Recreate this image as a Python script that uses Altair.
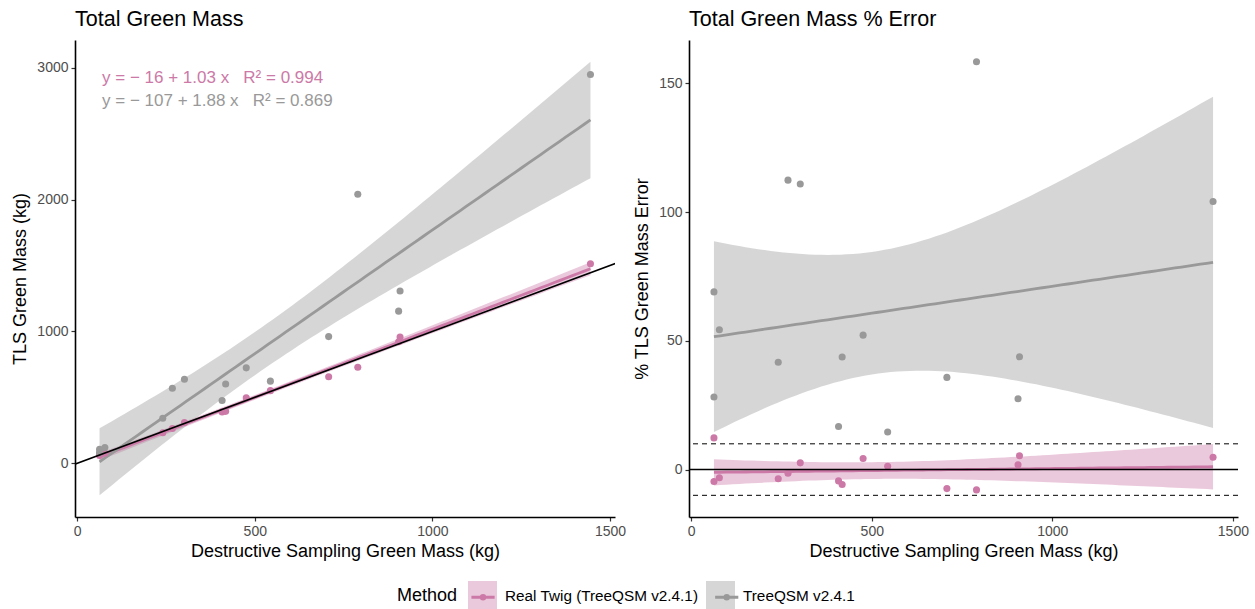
import altair as alt
import numpy as np
import pandas as pd

# ---------------- data ----------------
methods = ["Real Twig (TreeQSM v2.4.1)", "TreeQSM v2.4.1"]
colors = ["#CC79A7", "#999999"]

ds_mass = [63, 63, 78, 241, 268, 302, 408, 418, 476, 544, 708, 790, 905, 909, 1445]
tls_realtwig = [71, 60, 76, 232, 264, 310, 390, 394, 496, 551, 656, 728, 922, 958, 1514]
tls_treeqsm = [106, 81, 120, 342, 569, 637, 476, 601, 724, 623, 961, 2041, 1154, 1307, 2949]
err_realtwig = [12.3, -4.6, -3.2, -3.6, -1.4, 2.6, -4.4, -5.8, 4.3, 1.3, -7.4, -7.9, 1.9, 5.4, 4.8]
err_treeqsm = [69.0, 28.2, 54.3, 41.7, 112.4, 110.9, 16.7, 43.7, 52.2, 14.6, 35.8, 158.4, 27.5, 43.8, 104.1]

NB = "\u00a0"
eq_text = ["y = \u2212 16 + 1.03 x" + NB * 3 + "R\u00b2" + NB + "= 0.994",
           "y = \u2212 107 + 1.88 x" + NB * 3 + "R\u00b2" + NB + "= 0.869"]
eq_x = [70, 70]
eq_y = [2925, 2745]

err_ref = [0]
err_band_lines = [-10, 10]

FONT = "Liberation Sans"


def lm_band(x, y, n=80, t=2.1604):
    """Linear model fit with 95% confidence band (like geom_smooth(method='lm'))."""
    x = np.asarray(x, float)
    y = np.asarray(y, float)
    b1, b0 = np.polyfit(x, y, 1)
    resid = y - (b0 + b1 * x)
    s = np.sqrt(np.sum(resid ** 2) / (len(x) - 2))
    xm = x.mean()
    sxx = np.sum((x - xm) ** 2)
    xs = np.linspace(x.min(), x.max(), n)
    fit = b0 + b1 * xs
    se = s * np.sqrt(1.0 / len(x) + (xs - xm) ** 2 / sxx)
    return xs, fit, fit - t * se, fit + t * se


def build(values_by_method):
    pts, bands = [], []
    for m, c, vals in zip(methods, colors, values_by_method):
        pts.append(pd.DataFrame({"ds": ds_mass, "val": vals, "Method": m, "col": c}))
        xs, fit, lo, hi = lm_band(ds_mass, vals)
        bands.append(pd.DataFrame({"ds": xs, "fit": fit, "lo": lo, "hi": hi,
                                   "Method": m, "Series": m}))
    return pd.concat(pts, ignore_index=True), pd.concat(bands, ignore_index=True)


pts_l, band_l = build([tls_realtwig, tls_treeqsm])
pts_r, band_r = build([err_realtwig, err_treeqsm])

# ggplot-like 5% expansion of the scales
xmin, xmax = min(ds_mass), max(ds_mass)
xpad = 0.05 * (xmax - xmin)
xdom = [xmin - xpad, xmax + xpad]

ylmin = min(band_l["lo"].min(), pts_l["val"].min())
ylmax = max(band_l["hi"].max(), pts_l["val"].max())
ylpad = 0.05 * (ylmax - ylmin)
yldom = [ylmin - ylpad, ylmax + ylpad]

yrmin = min(band_r["lo"].min(), pts_r["val"].min(), min(err_band_lines))
yrmax = max(band_r["hi"].max(), pts_r["val"].max(), max(err_band_lines))
yrpad = 0.05 * (yrmax - yrmin)
yrdom = [yrmin - yrpad, yrmax + yrpad]

# ---------------- legends ----------------
LEG_X = 322
LEG_Y = 541
TITLE_FS = 18
TITLE_PAD = 10
LABEL_FS = 15.3
LABEL_OFF = 8
COL_PAD = 7
# width of the legend title "Method" and first label in Liberation Sans (Arial metrics)
title_w = 3.335 * TITLE_FS
label1_w = 12.725 * LABEL_FS

fill_legend = alt.Legend(
    orient="none", legendX=LEG_X, legendY=LEG_Y, direction="horizontal",
    titleOrient="left", title="Method", titleFontSize=TITLE_FS, titleFont=FONT,
    titleColor="black", titleFontWeight="normal", titlePadding=TITLE_PAD,
    labelFontSize=LABEL_FS, labelFont=FONT, labelColor="black", labelLimit=0,
    symbolSize=841, labelOffset=LABEL_OFF, columnPadding=COL_PAD, padding=0,
    symbolType="square", symbolOpacity=0.4, symbolStrokeWidth=0, zindex=0)

key_path = "M-0.8,0H0.8M-0.12,0A0.12,0.12,0,1,1,0.12,0A0.12,0.12,0,1,1,-0.12,0Z"
line_legend = alt.Legend(
    orient="none", legendX=LEG_X + title_w + TITLE_PAD, legendY=LEG_Y,
    direction="horizontal", title=None, labelExpr="''", labelFontSize=LABEL_FS,
    symbolSize=841, labelOffset=LABEL_OFF, columnPadding=COL_PAD + label1_w, padding=0,
    symbolType=key_path, symbolStrokeWidth=3, zindex=1)

fill_scale = alt.Scale(range=colors)
color_scale = alt.Scale(range=colors)

xscale = alt.Scale(domain=xdom, nice=False, zero=False)
xaxis = alt.Axis(values=[0, 500, 1000, 1500], format="d",
                 title="Destructive Sampling Green Mass (kg)")


def panel(pts, band, ydom, yvals, ytitle):
    yscale = alt.Scale(domain=ydom, nice=False, zero=False)
    base_b = alt.Chart(band)
    area = base_b.mark_area(opacity=0.4).encode(
        x=alt.X("ds:Q", scale=xscale, axis=xaxis),
        y=alt.Y("lo:Q", scale=yscale, axis=alt.Axis(values=yvals, format="d", title=ytitle)),
        y2="hi:Q",
        fill=alt.Fill("Method:N", scale=fill_scale, legend=fill_legend),
    )
    line = base_b.mark_line(strokeWidth=2.8).encode(
        x="ds:Q",
        y="fit:Q",
        color=alt.Color("Series:N", scale=color_scale, legend=line_legend),
        detail="Series:N",
    )
    points = alt.Chart(pts).mark_circle(size=50, opacity=1).encode(
        x="ds:Q",
        y="val:Q",
        color=alt.Color("col:N", scale=None),
    )
    return [area, line, points]


# left panel
l_layers = panel(pts_l, band_l, yldom, [0, 1000, 2000, 3000], "TLS Green Mass (kg)")
ref_df = pd.DataFrame({"ds": [xdom[0] - 50, xdom[1] + 50], "val": [xdom[0] - 50, xdom[1] + 50]})
abline = alt.Chart(ref_df).mark_line(color="black", strokeWidth=1.5, clip=True).encode(
    x="ds:Q", y="val:Q")
eq_df = pd.DataFrame({"ds": eq_x, "val": eq_y, "txt": eq_text, "col": colors})
eqs = alt.Chart(eq_df).mark_text(align="left", baseline="middle", fontSize=17, font=FONT).encode(
    x="ds:Q", y="val:Q", text="txt:N", color=alt.Color("col:N", scale=None))
left = alt.layer(*l_layers, abline, eqs).properties(
    width=540, height=477, title=alt.TitleParams("Total Green Mass", frame="group"))

# right panel
r_layers = panel(pts_r, band_r, yrdom, [0, 50, 100, 150], "% TLS Green Mass Error")
zero_rule = alt.Chart(pd.DataFrame({"v": err_ref})).mark_rule(color="black", strokeWidth=1.5).encode(
    y="v:Q")
dash_rule = alt.Chart(pd.DataFrame({"v": err_band_lines})).mark_rule(
    color="black", strokeWidth=1, strokeDash=[5, 4]).encode(y="v:Q")
right = alt.layer(*r_layers, zero_rule, dash_rule).properties(
    width=549, height=477, title=alt.TitleParams("Total Green Mass % Error", frame="group"))

chart = (
    alt.hconcat(left, right, spacing=7)
    .resolve_scale(y="independent")
    .properties(padding={"left": 11, "top": 8, "right": 5, "bottom": 2}, background="white")
    .configure_view(stroke=None)
    .configure_axis(
        grid=False, domainColor="black", domainWidth=1.6, tickColor="#333333",
        tickWidth=1.2, tickSize=4, labelColor="#4D4D4D", labelFontSize=14, labelFont=FONT,
        labelPadding=3, titleFont=FONT, titleFontSize=18, titleColor="black",
        titleFontWeight="normal", labelFlush=False, labelOverlap=False,
    )
    .configure_axisY(titlePadding=7)
    .configure_axisX(titlePadding=4)
    .configure_title(font=FONT, fontSize=21.5, fontWeight="normal", anchor="start",
                     color="black", offset=10)
)

chart.save("out.html", embed_options={"renderer": "svg", "actions": False})
